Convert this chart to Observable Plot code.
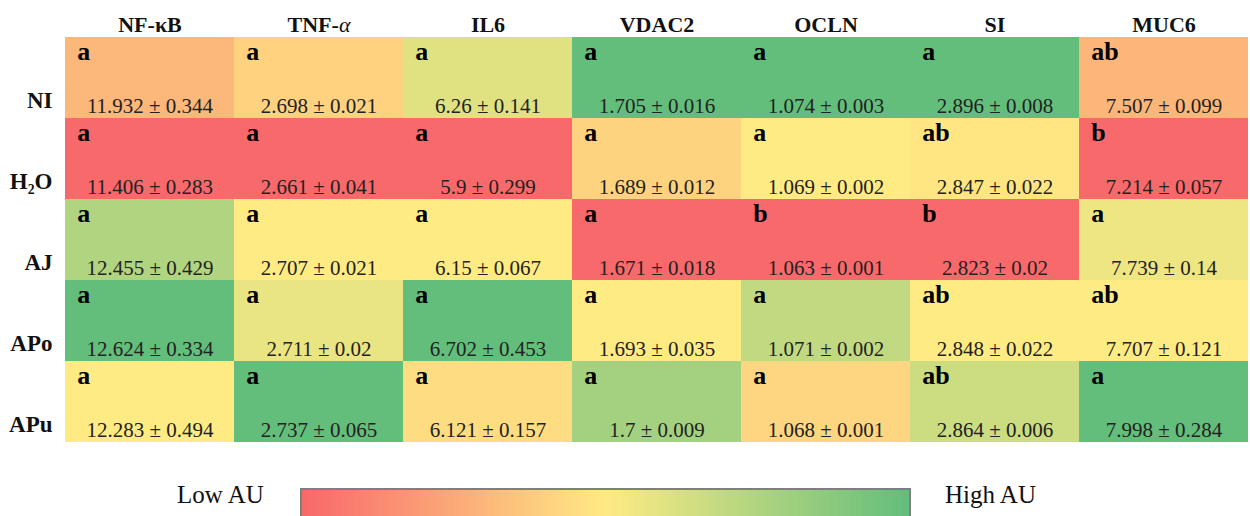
<!DOCTYPE html>
<html><head><meta charset="utf-8">
<script src="https://cdn.jsdelivr.net/npm/d3@7"></script>
<script src="https://cdn.jsdelivr.net/npm/@observablehq/plot@0.6"></script>
<style>
body{margin:0;background:#fff;font-family:"Liberation Serif",serif;}
#wrap{width:1250px;}
#legend{position:relative;height:66px;width:1250px;overflow:hidden;}
#legend .lab{position:absolute;top:31px;font-size:25px;color:#111;}
#legend .ramp{position:absolute;left:300px;top:38px;border:2px solid #7f7f7f;line-height:0;}
#legend .ramp svg{display:block;}
</style></head><body><div id="wrap"></div>
<script>
const groups = ["NI", "H₂O", "AJ", "APo", "APu"];
const genes = ["NF-κB", "TNF-α", "IL6", "VDAC2", "OCLN", "SI", "MUC6"];

const meanNFkB = [11.932, 11.406, 12.455, 12.624, 12.283];
const meanTNFa = [2.698, 2.661, 2.707, 2.711, 2.737];
const meanIL6 = [6.26, 5.9, 6.15, 6.702, 6.121];
const meanVDAC2 = [1.705, 1.689, 1.671, 1.693, 1.7];
const meanOCLN = [1.074, 1.069, 1.063, 1.071, 1.068];
const meanSI = [2.896, 2.847, 2.823, 2.848, 2.864];
const meanMUC6 = [7.507, 7.214, 7.739, 7.707, 7.998];

const sdNFkB = [0.344, 0.283, 0.429, 0.334, 0.494];
const sdTNFa = [0.021, 0.041, 0.021, 0.02, 0.065];
const sdIL6 = [0.141, 0.299, 0.067, 0.453, 0.157];
const sdVDAC2 = [0.016, 0.012, 0.018, 0.035, 0.009];
const sdOCLN = [0.003, 0.002, 0.001, 0.002, 0.001];
const sdSI = [0.008, 0.022, 0.02, 0.022, 0.006];
const sdMUC6 = [0.099, 0.057, 0.14, 0.121, 0.284];

const letNFkB = ["a", "a", "a", "a", "a"];
const letTNFa = ["a", "a", "a", "a", "a"];
const letIL6 = ["a", "a", "a", "a", "a"];
const letVDAC2 = ["a", "a", "a", "a", "a"];
const letOCLN = ["a", "a", "b", "a", "a"];
const letSI = ["a", "ab", "b", "ab", "ab"];
const letMUC6 = ["ab", "b", "a", "ab", "a"];

const legendLow = "Low AU";
const legendHigh = "High AU";

const means = [meanNFkB, meanTNFa, meanIL6, meanVDAC2, meanOCLN, meanSI, meanMUC6];
const sds = [sdNFkB, sdTNFa, sdIL6, sdVDAC2, sdOCLN, sdSI, sdMUC6];
const lets = [letNFkB, letTNFa, letIL6, letVDAC2, letOCLN, letSI, letMUC6];

// Excel-style 3-colour scale per column: min -> 0, median -> 0.5, max -> 1
const data = [];
genes.forEach((g, j) => {
  const vals = means[j];
  const mn = d3.min(vals), mx = d3.max(vals), md = d3.median(vals);
  vals.forEach((v, i) => {
    const t = v <= md ? 0.5 * (v - mn) / (md - mn) : 0.5 + 0.5 * (v - md) / (mx - md);
    data.push({gene: g, group: groups[i], value: v, sd: sds[j][i], letter: lets[j][i], t,
      label: `${v} ± ${sds[j][i]}`});
  });
});

const W = 1250, ML = 63, MR = 0;
const bw = (W - ML - MR) / genes.length;
const colorOpts = {type: "linear", domain: [0, 0.5, 1], range: ["#F8696B", "#FFEB84", "#63BE7B"], interpolate: "rgb"};

const chart = Plot.plot({
  width: W, height: 450, marginTop: 37, marginBottom: 8, marginLeft: ML, marginRight: MR,
  style: {fontFamily: "'Liberation Serif', serif", background: "white", overflow: "visible"},
  x: {domain: genes, padding: 0, axis: null},
  y: {domain: groups, padding: 0, axis: null},
  color: colorOpts,
  marks: [
    Plot.cell(data, {x: "gene", y: "group", fill: "t"}),
    Plot.text(data, {x: "gene", y: "group", text: "letter", textAnchor: "start", lineAnchor: "bottom",
      dx: -bw / 2 + 12, dy: -18, fontSize: 26, fontWeight: "bold", fill: "#000"}),
    Plot.text(data, {x: "gene", y: "group", text: "label", lineAnchor: "bottom",
      dy: 35, fontSize: 21, fill: "#222"}),
    Plot.text(genes, {x: d => d, frameAnchor: "top", lineAnchor: "bottom", dy: -6,
      fontSize: 22, fontWeight: "bold", fill: "#111"}),
    Plot.text(groups, {y: d => d, frameAnchor: "left", textAnchor: "end", lineAnchor: "bottom",
      dx: -11, dy: 29.5, fontSize: 23, fontWeight: "bold", fill: "#111"})
  ]
});
// italic Greek alpha in the TNF-α header, as in the reference
d3.select(chart).selectAll("text").filter(function() { return this.textContent === "TNF-α"; })
  .each(function() {
    const el = d3.select(this);
    el.text("TNF-");
    el.append("tspan").attr("font-style", "italic").attr("font-weight", "normal").text("α");
  });

const wrap = document.getElementById("wrap");
wrap.appendChild(chart);

const legend = document.createElement("div");
legend.id = "legend";
const low = document.createElement("span");
low.className = "lab"; low.style.left = "177px"; low.textContent = legendLow;
const high = document.createElement("span");
high.className = "lab"; high.style.left = "945px"; high.textContent = legendHigh;
const rampBox = document.createElement("div");
rampBox.className = "ramp";
const ramp = Plot.legend({
  color: chart.scale("color"), width: 607, height: 30,
  marginTop: 0, marginBottom: 0, marginLeft: 0, marginRight: 0,
  tickSize: 0, ticks: 0, tickFormat: () => "", label: null
});
rampBox.appendChild(ramp);
legend.appendChild(low); legend.appendChild(rampBox); legend.appendChild(high);
wrap.appendChild(legend);
</script></body></html>
